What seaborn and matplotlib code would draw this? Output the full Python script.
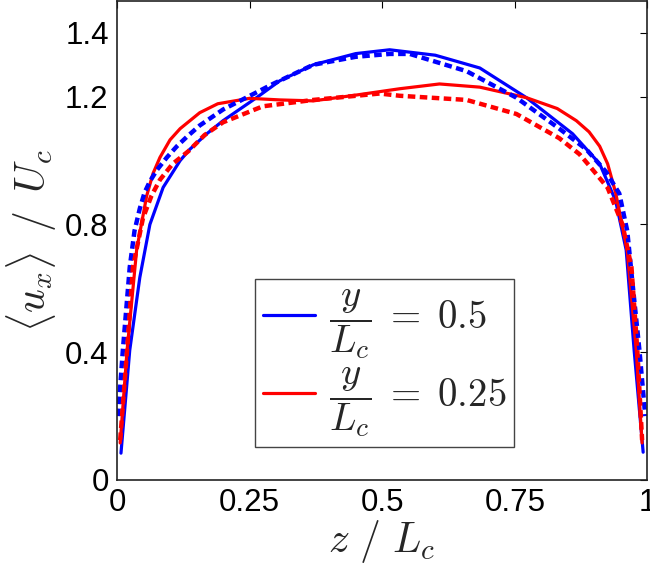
import numpy as np
import pandas as pd
import matplotlib
matplotlib.use("Agg")
import matplotlib.pyplot as plt
import seaborn as sns

# wall-normal profiles, z / L_c vs <u_x> / U_c
z_half_solid = [0.0075, 0.024, 0.043, 0.062, 0.087, 0.119, 0.137, 0.17, 0.2, 0.263, 0.307, 0.37,
                0.45, 0.514, 0.6, 0.684, 0.772, 0.859, 0.91, 0.94, 0.96, 0.975, 0.992]
u_half_solid = [0.084, 0.406, 0.634, 0.80, 0.916, 1.00, 1.035, 1.085, 1.125, 1.197, 1.25, 1.30,
                1.335, 1.347, 1.33, 1.29, 1.197, 1.084, 0.99, 0.875, 0.72, 0.406, 0.087]

z_half_dash = [0.002, 0.011, 0.024, 0.033, 0.043, 0.052, 0.062, 0.075, 0.094, 0.113, 0.132, 0.156,
               0.2, 0.294, 0.37, 0.45, 0.514, 0.552, 0.659, 0.753, 0.834, 0.885, 0.922, 0.947,
               0.962, 0.972, 0.985, 0.996]
u_half_dash = [0.2, 0.406, 0.666, 0.78, 0.85, 0.90, 0.935, 0.97, 1.01, 1.045, 1.075, 1.11,
               1.16, 1.24, 1.30, 1.325, 1.334, 1.334, 1.28, 1.197, 1.10, 1.035, 0.965, 0.897,
               0.78, 0.615, 0.406, 0.2]

z_quart_solid = [0.006, 0.019, 0.037, 0.056, 0.068, 0.081, 0.1, 0.119, 0.156, 0.19, 0.25, 0.307,
                 0.37, 0.45, 0.533, 0.608, 0.684, 0.772, 0.83, 0.866, 0.89, 0.91, 0.925, 0.94,
                 0.962, 0.979, 0.99]
u_quart_solid = [0.116, 0.406, 0.72, 0.89, 0.96, 1.01, 1.065, 1.10, 1.15, 1.178, 1.195, 1.19,
                 1.187, 1.205, 1.225, 1.24, 1.23, 1.197, 1.163, 1.125, 1.09, 1.045, 0.99, 0.90,
                 0.72, 0.406, 0.116]

z_quart_dash = [0.006, 0.019, 0.03, 0.049, 0.065, 0.081, 0.105, 0.135, 0.165, 0.2, 0.275, 0.37,
                0.495, 0.533, 0.659, 0.753, 0.834, 0.872, 0.89, 0.925, 0.953, 0.97, 0.981, 0.99]
u_quart_dash = [0.125, 0.406, 0.666, 0.82, 0.89, 0.94, 0.99, 1.03, 1.08, 1.12, 1.17, 1.19,
                1.21, 1.203, 1.19, 1.146, 1.07, 1.02, 0.985, 0.915, 0.80, 0.666, 0.406, 0.125]

x_ticks = [0, 0.25, 0.5, 0.75, 1]
x_tick_labels = ["0", "0.25", "0.5", "0.75", "1"]
y_ticks = [0, 0.4, 0.8, 1.2, 1.4]
y_tick_labels = ["0", "0.4", "0.8", "1.2", "1.4"]

sns.set_style("white")
plt.rcParams["font.family"] = ["Liberation Sans", "DejaVu Sans"]
plt.rcParams["mathtext.fontset"] = "cm"

fig = plt.figure(figsize=(6.5, 5.71), dpi=100)
ax = fig.add_axes([0.18, 0.1594, 0.816, 0.839])

blue = "#0000ff"
red = "#ff0000"

sns.lineplot(x=z_half_solid, y=u_half_solid, ax=ax, color=blue, lw=2.3, sort=False,
             label=r"$\dfrac{y}{L_c}\;=\;0.5$")
sns.lineplot(x=z_quart_solid, y=u_quart_solid, ax=ax, color=red, lw=2.3, sort=False,
             label=r"$\dfrac{y}{L_c}\;=\;0.25$")
sns.lineplot(x=z_half_dash, y=u_half_dash, ax=ax, color=blue, lw=3.2, sort=False,
             label="_nolegend_")
sns.lineplot(x=z_quart_dash, y=u_quart_dash, ax=ax, color=red, lw=3.2, sort=False,
             label="_nolegend_")
for line in ax.lines[2:]:
    line.set_dashes((1.7, 1.0))

ax.set_xlim(0, 1)
ax.set_ylim(0, 1.5)
ax.set_xticks(x_ticks)
ax.set_xticklabels(x_tick_labels)
ax.set_yticks(y_ticks)
ax.set_yticklabels(y_tick_labels)
ax.tick_params(direction="in", top=True, right=True, length=5, width=0.8,
               labelsize=22.5, pad=6, colors="black")
for s in ax.spines.values():
    s.set_color("#222222")
    s.set_linewidth(1.2)

ax.set_xlabel(r"$z\ /\ L_c$", fontsize=30, labelpad=0)
ax.set_ylabel(r"$\langle u_x \rangle\enspace/\enspace U_c$", fontsize=30, labelpad=4)

leg = ax.legend(loc="lower left", bbox_to_anchor=(0.26, 0.069), fontsize=28,
                frameon=True, fancybox=False, framealpha=1, edgecolor="#444444",
                handlelength=1.35, handletextpad=0.35, borderpad=0.2, labelspacing=0.12,
                borderaxespad=0)
leg.get_frame().set_linewidth(1.0)

fig.savefig("out.png", dpi=100)
